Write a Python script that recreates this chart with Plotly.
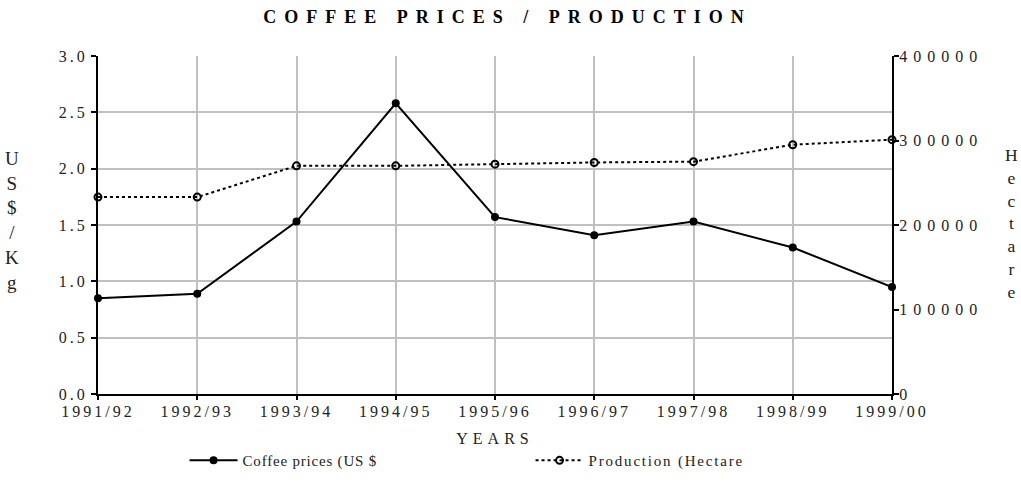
import plotly.graph_objects as go

years = ["1991/92", "1992/93", "1993/94", "1994/95", "1995/96",
         "1996/97", "1997/98", "1998/99", "1999/00"]
prices = [0.85, 0.89, 1.53, 2.58, 1.57, 1.41, 1.53, 1.30, 0.95]
production = [233000, 233000, 270000, 270000, 272000, 274000, 275000, 295000, 301000]

FONT = "Liberation Serif"

fig = go.Figure()
fig.add_trace(go.Scatter(
    x=years, y=prices, name="Coffee prices (US $", mode="lines+markers",
    line=dict(color="black", width=2),
    marker=dict(symbol="circle", size=8, color="black"),
    cliponaxis=False, yaxis="y"))
fig.add_trace(go.Scatter(
    x=years, y=production, name="Production (Hectare", mode="lines+markers",
    line=dict(color="black", width=2, dash="dot"),
    marker=dict(symbol="circle-open", size=7, color="black", line=dict(width=2)),
    cliponaxis=False, yaxis="y2"))

axis_common = dict(showline=True, linecolor="black", linewidth=2, zeroline=False,
                   ticks="outside", tickcolor="black", tickwidth=2,
                   tickfont=dict(size=16, color="#222"))

fig.update_layout(
    width=1021, height=489,
    margin=dict(l=98, r=129, t=56, b=77),
    paper_bgcolor="white", plot_bgcolor="white",
    font=dict(family=FONT, size=16, color="black"),
    title=dict(text="<b>COFFEE PRICES / PRODUCTION</b>", x=0.497, xanchor="center",
               y=0.965, yanchor="middle", font=dict(family=FONT, size=18)),
    xaxis=dict(type="category", range=[0, 8], showgrid=True, gridcolor="#c0c0c0",
               gridwidth=2, ticklen=4, ticklabelstandoff=-2,
               title=dict(text="YEARS", font=dict(size=16, color="#222"), standoff=14),
               **axis_common),
    yaxis=dict(range=[0, 3], dtick=0.5, tickformat=".1f", showgrid=True,
               gridcolor="#c0c0c0", gridwidth=2, ticklen=5, **axis_common),
    yaxis2=dict(range=[0, 400000], dtick=100000, tickformat="d", overlaying="y",
                side="right", showgrid=False, ticklen=5, ticklabelstandoff=-3,
                **axis_common),
    legend=dict(orientation="h", x=0.109, xanchor="left", y=-0.197, yanchor="middle",
                font=dict(size=15, color="#222"), entrywidth=283, entrywidthmode="pixels",
                itemwidth=48, bgcolor="rgba(0,0,0,0)"),
    showlegend=True,
)

fig.add_annotation(text="U<br>S<br>$<br>/<br>K<br>g", xref="paper", yref="paper",
                   x=-0.108, y=0.513, xanchor="center", yanchor="middle", showarrow=False,
                   font=dict(size=19, color="#222"), align="center")
fig.add_annotation(text="H<br>e<br>c<br>t<br>a<br>r<br>e", xref="paper", yref="paper",
                   x=1.151, y=0.503, xanchor="center", yanchor="middle", showarrow=False,
                   font=dict(size=17.5, color="#222"), align="center")

css = ("body{margin:0;} "
       ".gtitle{letter-spacing:8px;} "
       ".xtick text,.ytick text{letter-spacing:3px;} "
       ".y2tick text{letter-spacing:6px;} "
       ".xtitle{letter-spacing:5px;} "
       ".legendtext{letter-spacing:0.8px;} "
       ".legend .traces:nth-of-type(2) .legendtext{letter-spacing:1.8px;}")
post = ("var s=document.createElement('style');s.textContent=" + repr(css) +
        ";document.head.appendChild(s);")

fig.write_html("out.html", post_script=post, config={"displayModeBar": False})
